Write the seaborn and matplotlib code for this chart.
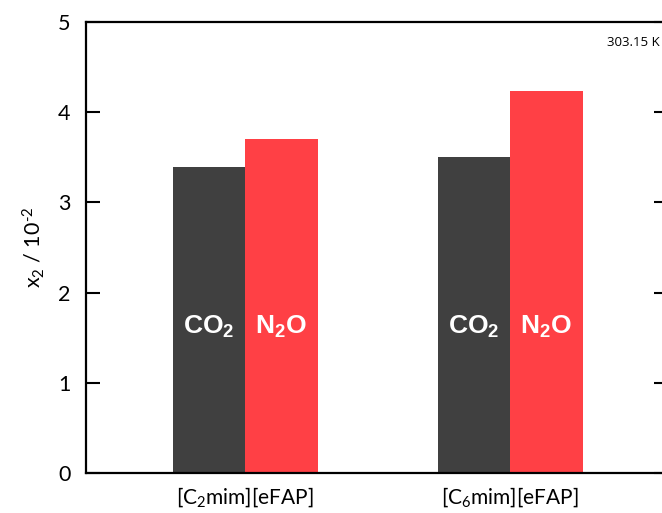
import pandas as pd
import matplotlib
matplotlib.use("Agg")
import matplotlib.pyplot as plt
import seaborn as sns

# datos
liquidos = ["[C$_2$mim][eFAP]", "[C$_6$mim][eFAP]"]
gases = ["CO2", "N2O"]
co2 = [3.39, 3.50]
n2o = [3.70, 4.23]
etiquetas_gas = {"CO2": "CO$_\\mathbf{2}$", "N2O": "N$_\\mathbf{2}$O"}
colores = {"CO2": "#404040", "N2O": "#ff4045"}

df = pd.DataFrame({
    "liquido": liquidos * 2,
    "gas": [gases[0]] * 2 + [gases[1]] * 2,
    "x2": co2 + n2o,
})

sns.set_theme(style="white")
plt.rcParams["font.family"] = ["Lato", "DejaVu Sans"]
plt.rcParams["mathtext.fontset"] = "custom"
plt.rcParams["mathtext.rm"] = "Lato"
plt.rcParams["mathtext.it"] = "Lato"
plt.rcParams["mathtext.bf"] = "Liberation Sans:bold"
plt.rcParams["text.color"] = "black"
plt.rcParams["axes.labelcolor"] = "black"
plt.rcParams["xtick.color"] = "black"
plt.rcParams["ytick.color"] = "black"

fig = plt.figure(figsize=(6.62, 5.13), dpi=100)
ax = fig.add_axes([86 / 662, 40 / 513, 582 / 662, 451 / 513])

sns.barplot(data=df, x="liquido", y="x2", hue="gas", hue_order=gases,
            palette=colores, width=0.547, gap=0, saturation=1,
            edgecolor="none", linewidth=0, legend=False, ax=ax)

# etiquetas blancas dentro de las barras
for cont, gas in zip(ax.containers, gases):
    for barra in cont:
        ax.text(barra.get_x() + barra.get_width() / 2, 1.62, etiquetas_gas[gas],
                ha="center", va="center", color="white", fontsize=19,
                fontweight="bold", family="Liberation Sans")

ax.set_xlim(-0.6, 1.596)
ax.set_ylim(0, 5)
ax.set_yticks([0, 1, 2, 3, 4, 5])
ax.set_xlabel("")
ax.set_ylabel("x$_2$ / 10$^{\\text{-2}}$", fontsize=15.5, labelpad=8)
ax.tick_params(axis="y", which="both", direction="in", length=10, width=1.5,
               left=True, right=True, labelsize=15.5, pad=11)
ax.tick_params(axis="x", length=0, labelsize=15, pad=9)
for s in ax.spines.values():
    s.set_visible(True)
    s.set_color("black")
    s.set_linewidth(1.6)

fig.text(0.997, 1 - 43 / 513, "303.15 K", ha="right", va="center",
         fontsize=9.5, family="Open Sans")

fig.savefig("out.png", dpi=100)
